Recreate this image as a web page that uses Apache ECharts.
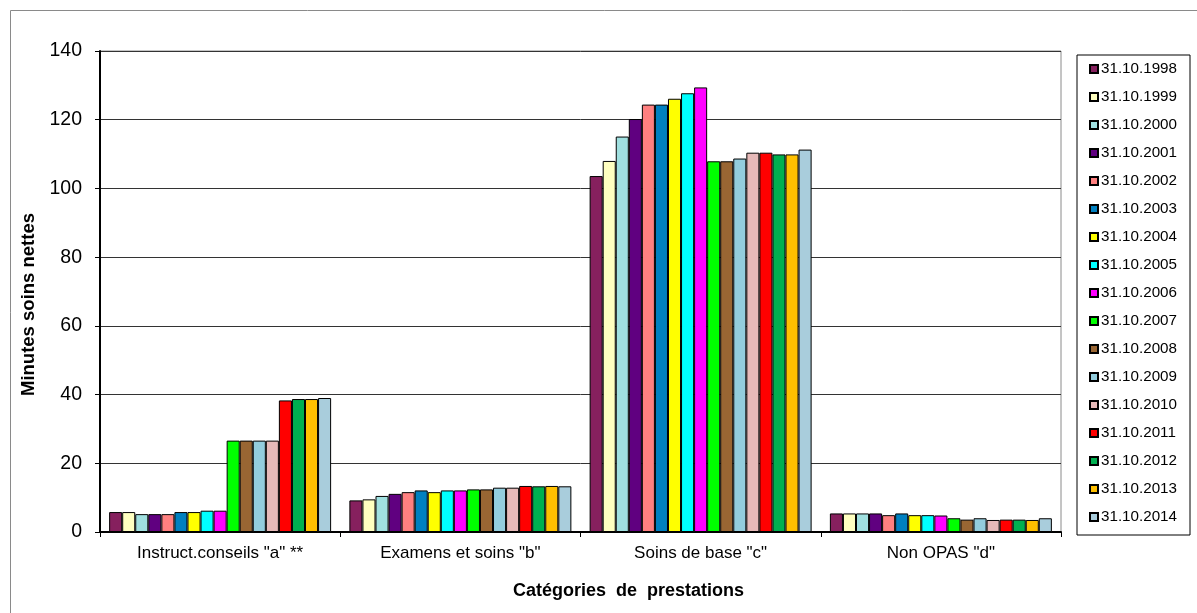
<!DOCTYPE html>
<html>
<head>
<meta charset="utf-8">
<script src="https://cdn.jsdelivr.net/npm/echarts@6/dist/echarts.min.js"></script>
<style>
  html, body { margin: 0; padding: 0; background: #fff; }
  #chart { width: 1197px; height: 613px; }
</style>
</head>
<body>
<div id="chart"></div>
<script>
// Categories of services on the x axis
const categories = ['Instruct.conseils "a" **', 'Examens et soins "b"', 'Soins de base "c"', 'Non OPAS "d"'];

// Reference dates (one series each)
const dates = ['31.10.1998', '31.10.1999', '31.10.2000', '31.10.2001', '31.10.2002', '31.10.2003',
  '31.10.2004', '31.10.2005', '31.10.2006', '31.10.2007', '31.10.2008', '31.10.2009',
  '31.10.2010', '31.10.2011', '31.10.2012', '31.10.2013', '31.10.2014'];

// Net care minutes per category, one value per date
const instructConseils = [5.8, 5.8, 5.2, 5.2, 5.2, 5.8, 5.8, 6.2, 6.2, 26.6, 26.6, 26.6, 26.6, 38.3, 38.7, 38.7, 39.0];
const examensSoins     = [9.2, 9.5, 10.5, 11.1, 11.6, 12.1, 11.6, 12.1, 12.1, 12.4, 12.4, 12.9, 12.9, 13.4, 13.3, 13.4, 13.3];
const soinsDeBase      = [103.6, 108.0, 115.1, 120.2, 124.4, 124.4, 126.1, 127.7, 129.4, 107.9, 107.9, 108.7, 110.4, 110.4, 109.9, 109.9, 111.3];
const nonOpas          = [5.4, 5.4, 5.4, 5.4, 4.9, 5.4, 4.9, 4.9, 4.8, 4.0, 3.6, 4.0, 3.5, 3.6, 3.6, 3.5, 4.0];

// Y axis ticks
const yTicks = { min: 0, max: 140, step: 20 };

const palette = ['#86205E', '#FFFFC0', '#A0E0E0', '#600080', '#FF8080', '#0080C0', '#FFFF00',
  '#00FFFF', '#FF00FF', '#00FF00', '#996633', '#93CDDD', '#E6B9B8', '#FF0000', '#00B050',
  '#FFC000', '#A9CDDC'];

const font = '"Liberation Sans", Arial, sans-serif';
const groups = [instructConseils, examensSoins, soinsDeBase, nonOpas];

const series = dates.map((d, i) => ({
  name: d,
  type: 'bar',
  barGap: '0%',
  barCategoryGap: '7.6%',
  data: groups.map(g => g[i]),
  itemStyle: { color: palette[i], borderColor: '#000', borderWidth: 1 }
}));

const chart = echarts.init(document.getElementById('chart'), null, { renderer: 'canvas' });
chart.setOption({
  animation: false,
  backgroundColor: '#fff',
  color: palette,
  textStyle: { fontFamily: font },
  graphic: [{
    type: 'rect',
    shape: { x: 10.5, y: 10.5, width: 1400, height: 800 },
    style: { fill: 'none', stroke: '#8a8a8a', lineWidth: 1 },
    z: -10
  }],
  grid: {
    left: 100, right: 136, top: 51, bottom: 81,
    show: true, borderColor: '#8a8a8a', borderWidth: 1, backgroundColor: '#fff'
  },
  legend: {
    orient: 'vertical',
    left: 1077, top: 55,
    width: 113,
    padding: [6, 13, 10, 12],
    borderColor: '#000', borderWidth: 1,
    itemWidth: 8, itemHeight: 8, itemGap: 12,
    icon: 'rect',
    textStyle: { fontFamily: font, fontSize: 15.2, color: '#000', lineHeight: 16, padding: [0, 0, 0, -2] },
    data: dates
  },
  xAxis: {
    type: 'category',
    data: categories,
    name: 'Catégories  de  prestations',
    nameLocation: 'middle',
    nameGap: 50,
    nameTextStyle: { fontFamily: font, fontSize: 18, fontWeight: 'bold', color: '#000', padding: [0, 0, 0, 96] },
    axisLine: { lineStyle: { color: '#000', width: 2 } },
    axisTick: { show: true, alignWithLabel: false, length: 5, lineStyle: { color: '#000' } },
    axisLabel: { fontFamily: font, fontSize: 17, color: '#000', margin: 13 }
  },
  yAxis: {
    type: 'value',
    min: yTicks.min, max: yTicks.max, interval: yTicks.step,
    name: 'Minutes soins nettes',
    nameLocation: 'middle',
    nameGap: 61,
    nameTextStyle: { fontFamily: font, fontSize: 18.5, fontWeight: 'bold', color: '#000', padding: [0, 26, 0, 0] },
    axisLine: { show: true, lineStyle: { color: '#000', width: 2 } },
    axisTick: { show: true, length: 5, lineStyle: { color: '#000' } },
    axisLabel: { fontFamily: font, fontSize: 19.5, color: '#000', margin: 18 },
    splitLine: { lineStyle: { color: '#333', width: 1 } }
  },
  series: series
});
</script>
</body>
</html>
